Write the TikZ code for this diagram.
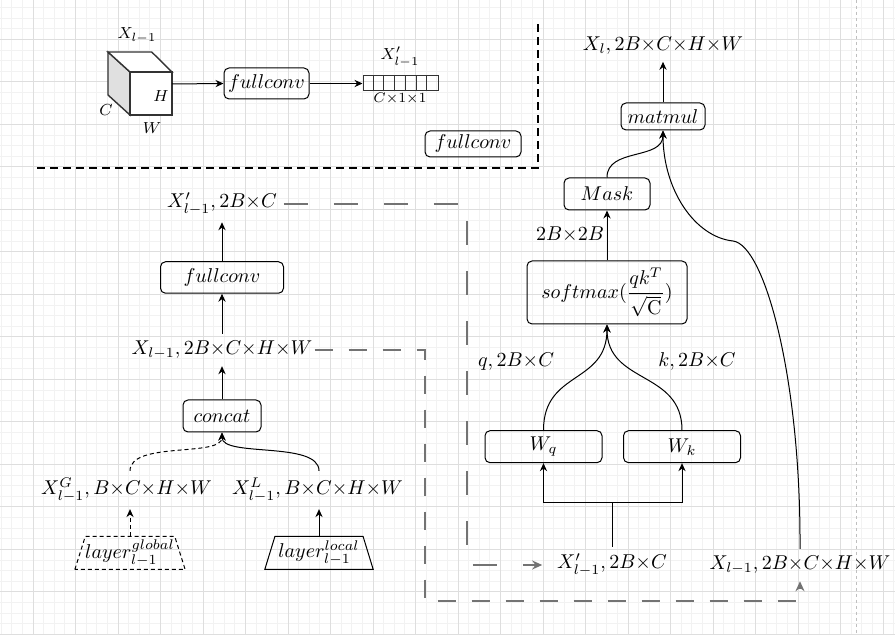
\documentclass[tikz,border=0pt]{standalone}
\usepackage{tikz}
\usetikzlibrary{arrows.meta,shapes.geometric}
\definecolor{gridminor}{HTML}{F2F2F2}
\definecolor{gridmajor}{HTML}{DEDEDE}
\newcommand{\linegray}{black!55}
\newcommand{\thin}{0.5pt}
\newcommand{\tms}{{\times}}
\tikzset{
  op/.style={draw, rounded corners=2.5pt, inner sep=0pt, line width=\thin},
  arr/.style={-{Stealth[length=4pt,width=3.6pt]}, line width=\thin},
  trap/.style={draw, trapezium, trapezium angle=69, trapezium stretches=true,
    minimum width=54.5pt, minimum height=16.5pt, inner sep=0pt, line width=\thin},
  fine dash/.style={dash pattern=on 2pt off 1.5pt},
  gdash/.style={draw=\linegray, line width=1pt, -{Stealth[length=5pt,width=4.5pt]}},
}

\begin{document}
\begin{tikzpicture}[x=0.5pt, y=-0.5pt]
\useasboundingbox (0,0) rectangle (895,635);
\fill[white] (0,0) rectangle (895,635);
%grid
\foreach \k in {0,...,84} \draw[gridminor, line width=0.5pt] ({1.125+10.625*\k},0) -- ++(0,635);
\foreach \k in {0,...,59} \draw[gridminor, line width=0.5pt] (0,{7.625+10.625*\k}) -- ++(895,0);
\foreach \k in {0,...,20} \draw[gridmajor, line width=0.5pt] ({33+42.5*\k},0) -- ++(0,635);
\foreach \k in {0,...,14} \draw[gridmajor, line width=0.5pt] (0,{39.5+42.5*\k}) -- ++(895,0);
\draw[black!25, line width=0.5pt, dash pattern=on 1.5pt off 1.5pt] (856,0) -- (856,635);

%fullconv legend
\draw[line width=1.3pt, dash pattern=on 4pt off 2.5pt] (37,168) -- (538,168) -- (538,20);
\begin{scope}[draw=black!80, line width=0.7pt]
\filldraw[fill=black!12] (108,52) -- (130,72) -- (130,115) -- (108,95) -- cycle;
\filldraw[fill=white] (108,52) -- (151.7,52) -- (172,72) -- (130,72) -- cycle;
\filldraw[fill=white] (130,72) rectangle (172,115);
\end{scope}
\coordinate (cube) at (172,84);
\node[font=\footnotesize] (xc) at (137,35) {$X_{l-1}$};
\node[font=\footnotesize] (hc) at (161,96) {$H$};
\node[font=\footnotesize] (cc) at (106,110) {$C$};
\node[font=\footnotesize] (wc) at (152,128) {$W$};
\node[op] (fc0) at (266.5,83.5) [minimum width=42.5pt, minimum height=15.5pt] {$fullconv$};
\node[draw=black!80, line width=\thin, inner sep=0pt] (vec) at (400.5,83.5) [minimum width=37.5pt, minimum height=7.5pt] {};
\foreach \i in {1,...,6} \draw[black!80, line width=\thin] (vec.south west) ++({10.71*\i},0) -- ++(0,-15);
\node[font=\footnotesize] (xv) at (400,57) {$X'_{l-1}$};
\node[font=\scriptsize] (cv) at (400,99) {$C\tms1\tms1$};
\node[op] (fcl) at (473,144) [minimum width=48pt, minimum height=13pt] {$fullconv$};
\draw[arr] (cube) -- (fc0.west);
\draw[arr] (fc0.east) -- (vec.west);

%left branch
\node (xp) at (222,204) {$X'_{l-1}, 2B\tms C$};
\node[op] (fc) at (222,277.5) [minimum width=61.5pt, minimum height=15.75pt] {$fullconv$};
\node[inner xsep=1pt] (xl) at (222,350) {$X_{l-1}, 2B\tms C\tms H\tms W$};
\node[op] (cat) at (222,416) [minimum width=39pt, minimum height=16pt] {$concat$};
\node (xg) at (126.5,490) {$X^G_{l-1}, B\tms C\tms H\tms W$};
\node (xloc) at (317.5,490) {$X^L_{l-1}, B\tms C\tms H\tms W$};
\node[trap, fine dash] (lg) at (130,553) {$layer^{global}_{l-1}$};
\node[trap] (ll) at (319,553) {$layer^{local}_{l-1}$};
\draw[arr] (fc.north) -- (xp.south);
\draw[arr] (xl.north) -- (fc.south);
\draw[arr] (cat.north) -- (xl.south);
\draw[arr, fine dash] (lg.north |- xg.north) .. controls +(0,-30) and +(0,25) .. (cat.south);
\draw[arr] (ll.north |- xloc.north) .. controls +(0,-30) and +(0,25) .. (cat.south);
\draw[arr, fine dash] (lg.north) -- (lg.north |- xg.south);
\draw[arr] (ll.north) -- (ll.north |- xloc.south);

%attention branch
\node (xout) at (663,46) {$X_l, 2B\tms C\tms H\tms W$};
\node[op] (mm) at (663,116.5) [minimum width=42pt, minimum height=13.5pt] {$matmul$};
\node[op] (mask) at (607,194) [minimum width=43pt, minimum height=16pt] {$Mask$};
\node (bb) at (570,235) {$2B\tms 2B$};
\node[op] (sm) at (607,292.5) [minimum width=80pt, minimum height=31.5pt] {$softmax(\displaystyle\frac{qk^T}{\sqrt{\mathrm{C}}})$};
\node (ql) at (516,362) {$q, 2B\tms C$};
\node (kl) at (697,362) {$k, 2B\tms C$};
\node[op] (wq) at (543.5,446.7) [minimum width=58.5pt, minimum height=16pt] {$W_q$};
\node[op] (wk) at (682,446.7) [minimum width=58.5pt, minimum height=16pt] {$W_k$};
\node (xpb) at (612,565) {$X'_{l-1}, 2B\tms C$};
\node (xlb) at (800,565) {$X_{l-1}, 2B\tms C\tms H\tms W$};
\draw[arr] (mm.north) -- (xout.south);
\draw[arr] (mask.north) .. controls +(0,-30) and +(0,30) .. (mm.south);
\draw[arr] (xlb.north) .. controls (801,380) and (765,245) .. (733,241) .. controls (695,237) and (663,190) .. (mm.south);
\draw[arr] (sm.north) -- (mask.south);
\draw[arr] (wq.north) .. controls +(0,-60) and +(0,60) .. (sm.south);
\draw[arr] (wk.north) .. controls +(0,-60) and +(0,60) .. (sm.south);
\draw[arr] (xpb.north) -- ++(0,-44) -| (wq.south);
\draw[arr] (xpb.north) -- ++(0,-44) -| (wk.south);

%skip paths
\draw[gdash, dash pattern=on 12pt off 13pt, shorten >=4pt] (xp.east) -- (467,204) -- (467,565) -- (xpb.west);
\draw[gdash, dash pattern=on 9pt off 8pt] (xl.east) -- (425,350) -- (425,601) -| (xlb.south);
\end{tikzpicture}
\end{document}
